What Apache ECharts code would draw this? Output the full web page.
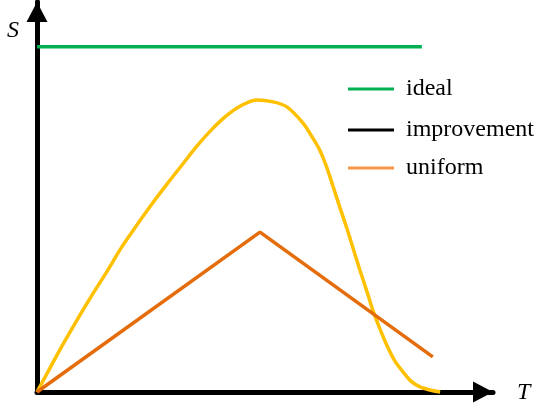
<!DOCTYPE html>
<html>
<head>
<meta charset="utf-8">
<script src="https://cdn.jsdelivr.net/npm/echarts@6/dist/echarts.min.js"></script>
<style>
  html, body { margin: 0; padding: 0; background: #fff; }
  #main { width: 550px; height: 415px; }
</style>
</head>
<body>
<div id="main"></div>
<script>
// values, T and S in arbitrary units (0..10)
var idealData = [[0, 8.85], [8.44, 8.85]];
var improvementData = [
    [0, 0], [0.26, 0.56], [0.55, 1.18], [0.88, 1.85], [1.21, 2.49],
    [1.54, 3.10], [1.86, 3.72], [2.19, 4.28], [2.52, 4.82], [2.85, 5.33],
    [3.18, 5.82], [3.51, 6.31], [3.84, 6.74], [4.17, 7.10], [4.50, 7.36],
    [4.82, 7.49], [5.18, 7.44], [5.48, 7.31], [5.83, 6.90], [6.05, 6.51],
    [6.21, 6.18], [6.36, 5.74], [6.49, 5.28], [6.64, 4.74], [6.80, 4.18],
    [6.93, 3.69], [7.08, 3.13], [7.24, 2.56], [7.37, 2.08], [7.52, 1.62],
    [7.68, 1.18], [7.85, 0.79], [8.03, 0.51], [8.20, 0.28], [8.40, 0.13],
    [8.62, 0.05], [8.84, 0]
];
var uniformData = [[0, 0], [4.89, 4.10], [8.68, 0.90]];
var legendNames = ['ideal', 'improvement', 'uniform'];

var chart = echarts.init(document.getElementById('main'));

function oneLegend(name, top, color) {
    return {
        data: [{ name: name, itemStyle: { color: color } }],
        left: 343,
        top: top,
        icon: 'rect',
        itemWidth: 46,
        itemHeight: 3,
        selectedMode: false,
        textStyle: {
            fontFamily: 'Liberation Serif',
            fontSize: 24,
            color: '#000',
            padding: [0, 0, 0, 7]
        }
    };
}

var arrowAxis = {
    type: 'value',
    min: 0,
    max: 10,
    axisLine: {
        show: true,
        symbol: ['none', 'triangle'],
        symbolSize: [21, 20],
        symbolOffset: [0, -10],
        lineStyle: { color: '#000', width: 5 }
    },
    axisTick: { show: false },
    axisLabel: { show: false },
    splitLine: { show: false }
};

var option = {
    animation: false,
    grid: { left: 37, right: 57, top: 2, bottom: 23 },
    legend: [
        oneLegend(legendNames[0], 72, '#00B050'),
        oneLegend(legendNames[1], 113, '#000000'),
        oneLegend(legendNames[2], 151, '#F79646')
    ],
    xAxis: arrowAxis,
    yAxis: arrowAxis,
    graphic: [
        {
            type: 'text', left: 7, top: 19,
            style: { text: 'S', font: 'italic 24px "Liberation Serif"', fill: '#000' }
        },
        {
            type: 'text', left: 517, top: 381,
            style: { text: 'T', font: 'italic 24px "Liberation Serif"', fill: '#000' }
        }
    ],
    series: [
        {
            name: 'ideal',
            type: 'line',
            data: idealData,
            showSymbol: false,
            lineStyle: { color: '#00B050', width: 3.5 },
            itemStyle: { color: '#00B050' }
        },
        {
            name: 'improvement',
            type: 'line',
            data: [],
            showSymbol: false,
            lineStyle: { color: '#000', width: 3.5 },
            itemStyle: { color: '#000' }
        },
        {
            name: 'curve',
            type: 'line',
            data: improvementData,
            smooth: 0.3,
            clip: false,
            showSymbol: false,
            lineStyle: { color: '#FFC000', width: 3.5 }
        },
        {
            name: 'uniform',
            type: 'line',
            data: uniformData,
            clip: false,
            showSymbol: false,
            lineStyle: { color: '#E46C0A', width: 3.5 },
            itemStyle: { color: '#E46C0A' }
        }
    ]
};

chart.setOption(option);
</script>
</body>
</html>
